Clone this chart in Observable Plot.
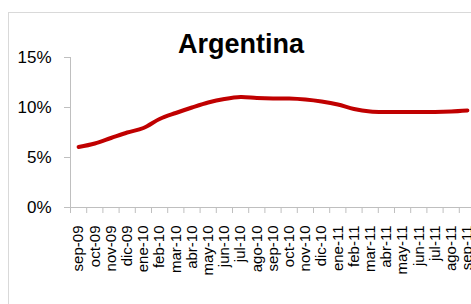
<!DOCTYPE html>
<html>
<head>
<meta charset="utf-8">
<script src="https://cdn.jsdelivr.net/npm/d3@7"></script>
<script src="https://cdn.jsdelivr.net/npm/@observablehq/plot@0.6"></script>
<style>
  html, body { margin: 0; padding: 0; background: #fff; overflow: hidden; width: 471px; height: 304px; }
  #wrap { position: relative; width: 471px; height: 304px; overflow: hidden; }
  #frame { position: absolute; left: 8px; top: 12px; width: 600px; height: 400px; border-left: 1px solid #d9d9d9; border-top: 1px solid #d9d9d9; }
  #title { position: absolute; left: 0; width: 482px; top: 29px; text-align: center; font: bold 27px "Liberation Sans", Arial, sans-serif; color: #000; }
  #chart { position: absolute; left: 0; top: 0; width: 480px; }
  #chart svg { max-width: none !important; }
</style>
</head>
<body>
<div id="wrap">
  <div id="frame"></div>
  <div id="chart"></div>
  <div id="title">Argentina</div>
</div>
<script>
const title = "Argentina";
const months = ["sep-09","oct-09","nov-09","dic-09","ene-10","feb-10","mar-10","abr-10","may-10","jun-10","jul-10","ago-10","sep-10","oct-10","nov-10","dic-10","ene-11","feb-11","mar-11","abr-11","may-11","jun-11","jul-11","ago-11","sep-11"];
const values = [6.05,6.4,6.95,7.5,7.95,8.85,9.45,10.0,10.5,10.85,11.05,10.95,10.9,10.9,10.8,10.6,10.3,9.85,9.6,9.55,9.55,9.55,9.55,9.6,9.7];
const yTicks = [0, 5, 10, 15];

const data = months.map((m, i) => ({i: i + 0.5, m, v: values[i]}));
const gray = "#bfbfbf";

const chart = Plot.plot({
  width: 480,
  height: 304,
  marginLeft: 70,
  marginRight: 5,
  marginTop: 57,
  marginBottom: 97,
  x: {domain: [0, months.length], axis: null, label: null},
  y: {domain: [0, 15], axis: null, label: null},
  style: {background: "transparent", overflow: "visible", maxWidth: "none"},
  marks: [
    Plot.ruleY([0], {stroke: gray, strokeWidth: 1}),
    Plot.ruleX([0], {stroke: gray, strokeWidth: 1}),
    Plot.axisY({ticks: yTicks, tickSize: 6, tickPadding: 13, stroke: gray, tickFormat: d => d + "%", label: null,
      fontSize: 17, fontFamily: "Liberation Sans, Arial, sans-serif", fill: "#000"}),
    Plot.axisX({ticks: d3.range(months.length + 1), tickSize: 6, tickFormat: () => "", stroke: gray, label: null}),
    Plot.axisX({ticks: data.map(d => d.i), tickSize: 0, tickPadding: 18, tickRotate: -90, label: null,
      tickFormat: t => months[Math.round(t - 0.5)],
      fontSize: 15, fontFamily: "Liberation Sans, Arial, sans-serif", fill: "#000"}),
    Plot.line(data, {x: "i", y: "v", stroke: "#c00000", strokeWidth: 4, curve: "catmull-rom", strokeLinecap: "round"})
  ]
});
document.getElementById("chart").appendChild(chart);
</script>
</body>
</html>
